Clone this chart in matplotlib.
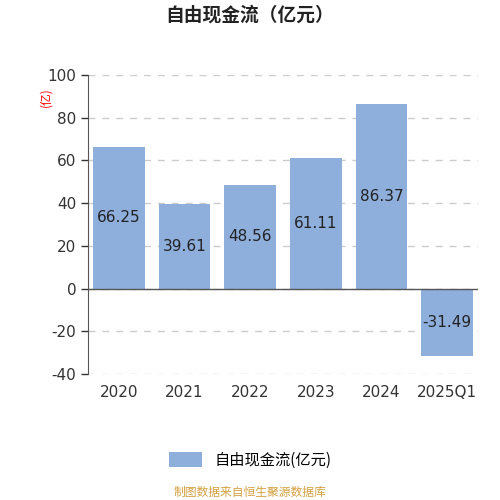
import matplotlib
matplotlib.use("Agg")
import matplotlib.pyplot as plt
from matplotlib.patches import Patch

plt.rcParams['font.family'] = ['DejaVu Sans', 'Noto Sans CJK SC']
plt.rcParams['axes.unicode_minus'] = False

years = ["2020", "2021", "2022", "2023", "2024", "2025Q1"]
fcf = [66.25, 39.61, 48.56, 61.11, 86.37, -31.49]
bar_color = "#8eaedc"
cjk = ['Noto Sans CJK SC', 'DejaVu Sans']

fig = plt.figure(figsize=(5, 5), dpi=100)
ax = fig.add_axes([0.176, 0.252, 0.78, 0.598])

x = range(len(years))
ax.bar(x, fcf, width=0.79, color=bar_color, zorder=2)
for i, v in enumerate(fcf):
    ax.text(i, v / 2, f"{v:.2f}", ha="center", va="center", fontsize=11, color="#222222", zorder=3)

ax.set_ylim(-40, 100)
ax.set_xlim(-0.47, len(years) - 0.53)
ax.set_yticks(range(-40, 101, 20))
ax.set_xticks(list(x))
ax.set_xticklabels(years)
ax.tick_params(axis="y", labelsize=11, colors="#333333", length=5, width=1)
ax.tick_params(axis="x", labelsize=11, colors="#333333", length=0, pad=8)
ax.yaxis.grid(True, linestyle=(0, (5, 5)), color="#cccccc", linewidth=1, zorder=0)
for s in ["top", "right", "bottom"]:
    ax.spines[s].set_visible(False)
ax.spines["left"].set_color("#555555")
ax.axhline(0, color="#555555", linewidth=1, zorder=3)

fig.text(0.092, 0.805, "(亿)", color="red", fontsize=8.5, rotation=90, ha="center", va="center", family=cjk)
fig.text(0.5, 0.97, "自由现金流（亿元）", ha="center", va="center", fontsize=13.5, fontweight="bold",
         color="#222222", family=cjk)

fig.legend(handles=[Patch(facecolor=bar_color, label="自由现金流(亿元)")],
           loc="center", bbox_to_anchor=(0.5, 0.08), frameon=False,
           prop={'family': cjk, 'size': 11},
           handlelength=2.2, handleheight=1.1)
fig.text(0.5, 0.015, "制图数据来自恒生聚源数据库", ha="center", va="center", fontsize=8.5, color="#d4a040",
         family=cjk)

fig.savefig("out.png", dpi=100)
